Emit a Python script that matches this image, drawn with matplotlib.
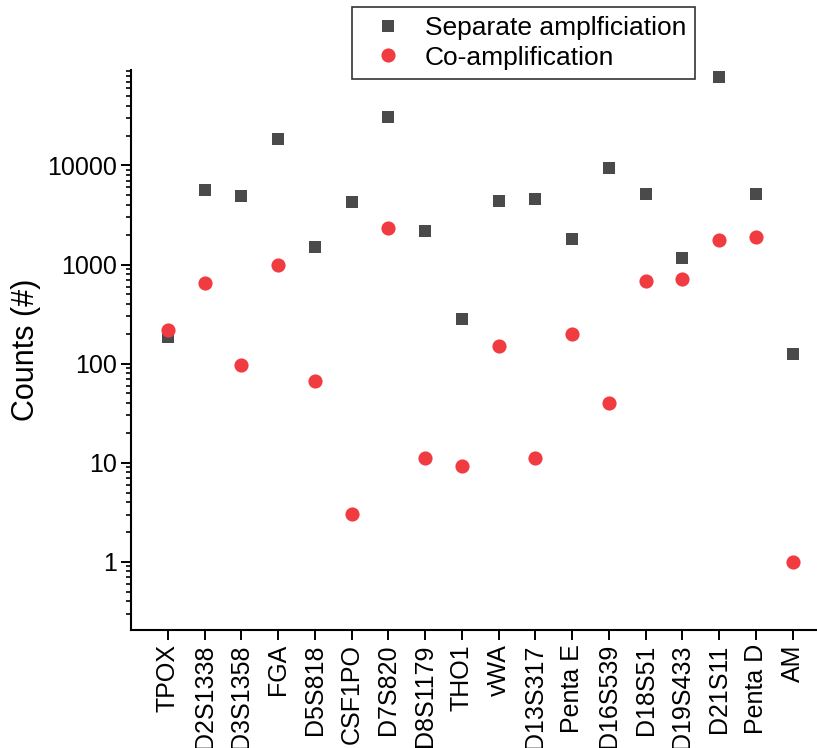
import numpy as np
import matplotlib
matplotlib.use('Agg')
import matplotlib.pyplot as plt
from matplotlib.ticker import FixedLocator, LogLocator, NullFormatter

plt.rcParams['font.family'] = ['Liberation Sans', 'DejaVu Sans']

loci = ['TPOX', 'D2S1338', 'D3S1358', 'FGA', 'D5S818', 'CSF1PO', 'D7S820',
        'D8S1179', 'THO1', 'vWA', 'D13S317', 'Penta E', 'D16S539', 'D18S51',
        'D19S433', 'D21S11', 'Penta D', 'AM']
separate = [184, 5700, 4960, 18600, 1520, 4320, 30800, 2175, 283, 4420,
            4630, 1820, 9500, 5200, 1160, 77300, 5200, 124]
coamp = [217, 656, 97, 995, 66.5, 3.07, 2330, 11.1, 9.2, 150,
         11.1, 200, 40, 676, 714, 1778, 1905, 1]

x = np.arange(1, len(loci) + 1)

fig = plt.figure(figsize=(8.17, 7.48), dpi=100)
ax = fig.add_axes([131/817, 118/748, 698.5/817, 560/748])

ax.plot(x, separate, 's', color='#4a4a4a', markersize=8.6, markeredgewidth=0,
        label='Separate amplficiation', zorder=3)
ax.plot(x, coamp, 'o', color='#f03c40', markersize=10.2, markeredgewidth=0,
        label='Co-amplification', zorder=4)

ax.set_yscale('log')
ax.set_ylim(0.205, 92000)
ax.set_xlim(0, 19)

ax.yaxis.set_major_locator(FixedLocator([1, 10, 100, 1000, 10000]))
ax.set_yticklabels(['1', '10', '100', '1000', '10000'])
ax.yaxis.set_minor_locator(LogLocator(base=10, subs=np.arange(2, 10)))
ax.yaxis.set_minor_formatter(NullFormatter())

ax.set_xticks(x)
ax.set_xticklabels(loci, rotation=90)

for s in ['top', 'right']:
    ax.spines[s].set_visible(False)
for s in ['left', 'bottom']:
    ax.spines[s].set_linewidth(1.5)
ax.tick_params(axis='both', which='major', direction='out', length=7.2, width=1.4,
               labelsize=18, pad=3)
ax.tick_params(axis='y', which='minor', direction='out', length=3.6, width=1.2)

ax.set_ylabel('Counts (#)', fontsize=22, labelpad=4)

leg = ax.legend(loc='upper left', bbox_to_anchor=(352/817, 1 - 7/748),
                bbox_transform=fig.transFigure, borderaxespad=0, fontsize=19,
                fancybox=False, framealpha=1, edgecolor='#333333',
                handletextpad=0.4, borderpad=0.35, labelspacing=0.2)
leg.get_frame().set_linewidth(1.2)

fig.savefig('out.png', dpi=100)
